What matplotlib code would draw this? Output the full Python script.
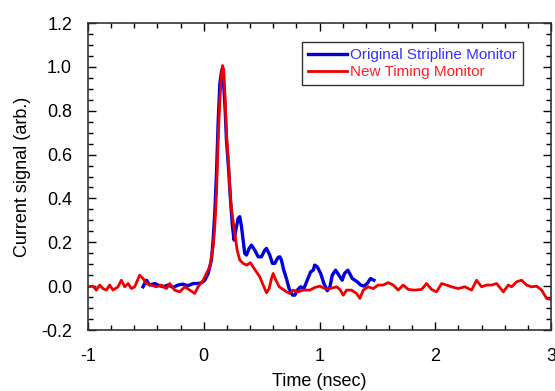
import matplotlib
matplotlib.use("Agg")
import matplotlib.pyplot as plt
import numpy as np
from matplotlib.ticker import MultipleLocator, FormatStrFormatter

plt.rcParams['font.family'] = ['Liberation Sans', 'DejaVu Sans']

# pixel-read digitization converted to data units
red_t = [-1.0, -0.957, -0.928, -0.899, -0.870, -0.842, -0.813, -0.784, -0.741, -0.712,
         -0.683, -0.654, -0.625, -0.597, -0.554, -0.525, -0.496, -0.453, -0.410, -0.366,
         -0.323, -0.294, -0.251, -0.208, -0.164, -0.121, -0.078, -0.049, -0.006, 0.023,
         0.052, 0.081, 0.095, 0.110, 0.124, 0.139, 0.153, 0.162, 0.173, 0.185,
         0.196, 0.216, 0.231, 0.248, 0.268, 0.288, 0.311, 0.340, 0.369, 0.403,
         0.426, 0.455, 0.484, 0.513, 0.542, 0.565, 0.585, 0.600, 0.623, 0.652,
         0.686, 0.715, 0.744, 0.772, 0.816, 0.859, 0.917, 0.960, 1.003, 1.046,
         1.090, 1.147, 1.176, 1.205, 1.234, 1.277, 1.320, 1.349, 1.378, 1.421,
         1.464, 1.507, 1.550, 1.594, 1.637, 1.680, 1.723, 1.767, 1.824, 1.882,
         1.925, 1.968, 2.011, 2.055, 2.098, 2.141, 2.199, 2.256, 2.314, 2.357,
         2.400, 2.443, 2.487, 2.530, 2.588, 2.631, 2.660, 2.703, 2.746, 2.789,
         2.832, 2.876, 2.919, 2.962, 3.0]
red_v = [-0.003, 0.000, -0.018, 0.005, -0.011, -0.018, 0.005, -0.018, -0.003, 0.027,
         -0.003, 0.012, -0.011, -0.003, 0.050, 0.035, 0.012, 0.005, -0.003, 0.005,
         -0.011, 0.012, -0.018, -0.026, -0.003, -0.018, -0.033, -0.003, 0.027, 0.058,
         0.088, 0.180, 0.271, 0.423, 0.667, 0.849, 0.971, 1.006, 0.986, 0.849,
         0.697, 0.545, 0.393, 0.317, 0.241, 0.165, 0.119, 0.104, 0.096, 0.107,
         0.088, 0.065, 0.043, 0.005, -0.030, -0.011, 0.035, 0.058, 0.027, -0.003,
         -0.015, -0.026, -0.033, -0.018, -0.026, -0.018, -0.018, -0.006, 0.000, -0.011,
         -0.011, -0.003, -0.015, -0.041, -0.018, -0.018, -0.033, -0.056, -0.018, -0.003,
         -0.011, 0.005, 0.005, 0.016, 0.005, -0.018, 0.005, -0.015, -0.018, -0.015,
         0.012, -0.015, -0.026, 0.012, 0.005, -0.003, -0.011, -0.003, -0.018, 0.027,
         -0.003, 0.005, 0.005, 0.012, -0.026, 0.005, -0.003, 0.020, 0.027, 0.005,
         -0.003, 0.000, -0.018, -0.056, -0.060]

blue_t = [-0.525, -0.496, -0.467, -0.424, -0.395, -0.352, -0.308, -0.265, -0.222, -0.179,
          -0.136, -0.092, -0.049, -0.020, 0.009, 0.038, 0.066, 0.081, 0.095, 0.110,
          0.124, 0.139, 0.153, 0.162, 0.173, 0.185, 0.196, 0.213, 0.231, 0.248,
          0.262, 0.277, 0.297, 0.311, 0.326, 0.340, 0.354, 0.369, 0.392, 0.412,
          0.441, 0.470, 0.498, 0.527, 0.542, 0.570, 0.593, 0.613, 0.642, 0.657,
          0.671, 0.691, 0.714, 0.737, 0.767, 0.787, 0.808, 0.836, 0.865, 0.894,
          0.923, 0.946, 0.958, 0.981, 1.010, 1.038, 1.067, 1.090, 1.110, 1.139,
          1.168, 1.196, 1.216, 1.245, 1.283, 1.326, 1.355, 1.384, 1.412, 1.441,
          1.470]
blue_v = [-0.003, 0.027, 0.005, 0.012, 0.005, -0.003, 0.005, -0.006, 0.005, 0.009,
          0.002, 0.012, 0.012, 0.015, 0.027, 0.058, 0.119, 0.210, 0.332, 0.514,
          0.743, 0.925, 0.978, 0.993, 0.910, 0.803, 0.667, 0.545, 0.393, 0.271,
          0.210, 0.256, 0.309, 0.317, 0.271, 0.210, 0.149, 0.142, 0.172, 0.187,
          0.164, 0.134, 0.134, 0.164, 0.172, 0.142, 0.104, 0.104, 0.131, 0.134,
          0.119, 0.073, 0.035, -0.011, -0.041, -0.041, -0.018, -0.003, -0.011, 0.027,
          0.065, 0.073, 0.096, 0.088, 0.058, 0.012, -0.021, -0.003, 0.050, 0.073,
          0.050, 0.027, 0.058, 0.073, 0.035, 0.020, 0.005, 0.000, 0.012, 0.035,
          0.027]

fig = plt.figure(figsize=(5.55, 3.91), dpi=100)
ax = fig.add_axes([0.1586, 0.156, 0.8342, 0.785])

ax.plot(blue_t, blue_v, color='#0000dd', lw=2.4, label='Original Stripline Monitor')
ax.plot(red_t, red_v, color='#ee0000', lw=2.0, label='New Timing Monitor')

ax.set_xlim(-1, 3)
ax.set_ylim(-0.2, 1.2)
ax.xaxis.set_major_locator(MultipleLocator(1))
ax.xaxis.set_minor_locator(MultipleLocator(0.2))
ax.yaxis.set_major_locator(MultipleLocator(0.2))
ax.yaxis.set_minor_locator(MultipleLocator(0.05))
ax.yaxis.set_major_formatter(FormatStrFormatter('%.1f'))
ax.xaxis.set_major_formatter(FormatStrFormatter('%d'))
ax.tick_params(which='both', direction='in', top=True, right=True, labelsize=13, colors='black')
ax.tick_params(which='major', length=6, width=1.0)
ax.tick_params(which='minor', length=3.5, width=1.0)
ax.tick_params(axis='x', which='major', pad=13)
ax.tick_params(axis='y', which='major', pad=11.5)
for s in ax.spines.values():
    s.set_linewidth(1.2)
    s.set_color('#333333')

ax.set_xlabel('Time (nsec)', fontsize=13, labelpad=5.5)
ax.set_ylabel('Current signal (arb.)', fontsize=13, labelpad=7.5)

leg = ax.legend(loc='upper right', bbox_to_anchor=(0.939, 0.938), fontsize=11,
                frameon=True, fancybox=False, edgecolor='black', handlelength=2.55,
                handletextpad=0.2, borderpad=0.4, labelspacing=0.2, borderaxespad=0)
leg.get_frame().set_linewidth(1.0)
for txt, c in zip(leg.get_texts(), ['#3333ff', '#ff2222']):
    txt.set_color(c)

fig.savefig('out.png', dpi=100)
